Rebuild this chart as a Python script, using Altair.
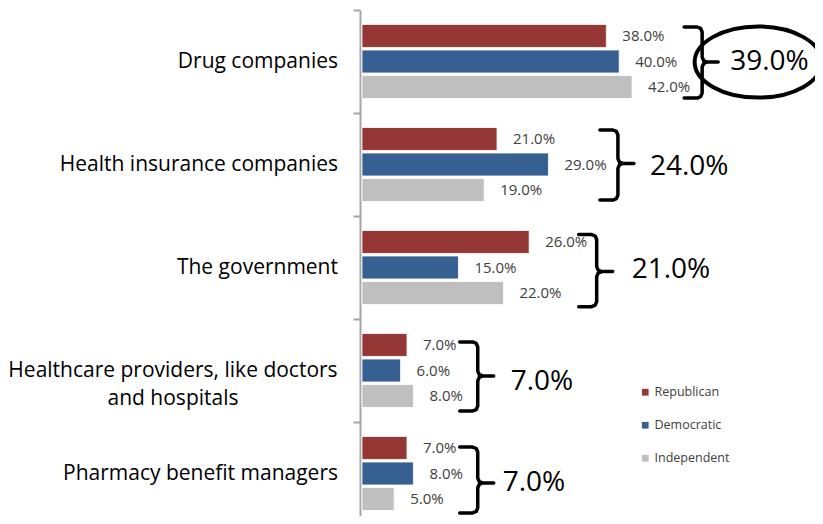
import altair as alt
import pandas as pd

# ---------------- data ----------------
categories = ["Drug companies", "Health insurance companies", "The government",
              "Healthcare providers, like doctors\nand hospitals", "Pharmacy benefit managers"]
series = ["Republican", "Democratic", "Independent"]
republican = [38.0, 21.0, 26.0, 7.0, 7.0]
democratic = [40.0, 29.0, 15.0, 6.0, 8.0]
independent = [42.0, 19.0, 22.0, 8.0, 5.0]
overall = [39.0, 24.0, 21.0, 7.0, 7.0]
colors = ["#953735", "#376092", "#bfbfbf"]

# ---------------- layout ----------------
PX = 6.43      # pixels per percentage point
BAND = 103.0   # pixels per category band
W, H = 455, 506
X0 = -0.31
xdom = [X0, W / PX + X0]
ydom = [0, H / BAND]

# annotation (brace) layout, in data units / band fractions
brace_x = [52.9, 39.8, 36.5, 18.0, 18.0]
brace_top = [0.165, 0.165, 0.18, 0.223, 0.243]
brace_bot = [0.855, 0.845, 0.88, 0.893, 0.883]
brace_tip = [0.505, 0.49, 0.54, 0.553, 0.592]
num_gap = [28, 32, 35, 33, 25]
num_y = [0.505, 0.524, 0.524, 0.61, 0.592]

FONT = "Open Sans"

# ---------------- tables ----------------
vals = [republican, democratic, independent]
rows = []
for i, cat in enumerate(categories):
    for j, s in enumerate(series):
        c = i + 0.5 + (j - 1) * 0.248
        rows.append({"cat": cat, "series": s, "value": vals[j][i],
                     "y": c - 0.1115, "y2": c + 0.1115, "yc": c,
                     "label": f"{vals[j][i]:.1f}%"})
bars = pd.DataFrame(rows)

cats = pd.DataFrame({"cat": categories, "yc": [i + 0.5 for i in range(len(categories))]})

hook, tail, r = 18.0, 16.0, 5.0
k = 0.293
brows = []
for g in range(len(categories)):
    top = g + brace_top[g]
    bot = g + brace_bot[g]
    tip = g + brace_tip[g]
    shape = [(-hook, top, 0), (-r, top, 0), (-k * r, top, k * r), (0, top, r),
             (0, tip, -r), (k * r, tip, -k * r), (r, tip, 0), (tail, tip, 0),
             (r, tip, 0), (k * r, tip, k * r), (0, tip, r),
             (0, bot, -r), (-k * r, bot, -k * r), (-r, bot, 0), (-hook, bot, 0)]
    for n, (dxp, yb, dyp) in enumerate(shape):
        brows.append({"g": g, "o": n, "x": brace_x[g] + dxp / PX, "y": yb + dyp / BAND})
braces = pd.DataFrame(brows)

nums = pd.DataFrame({
    "x": [brace_x[g] + num_gap[g] / PX for g in range(len(overall))],
    "y": [g + num_y[g] for g in range(len(overall))],
    "label": [f"{v:.1f}%" for v in overall],
})

ell = pd.DataFrame({"x": [brace_x[0] + 56 / PX], "y": [brace_tip[0]]})

# ---------------- scales / axes ----------------
xs = alt.Scale(domain=xdom, nice=False, zero=False)
ys = alt.Scale(domain=ydom, nice=False, zero=False, reverse=True)
yaxis = alt.Axis(values=[0, 1, 2, 3, 4, 5], labels=False, ticks=True, tickSize=7,
                 tickWidth=2, tickColor="#a6a6a6", domainColor="#a6a6a6",
                 domainWidth=2, grid=False, title=None)

bar_layer = alt.Chart(bars).mark_bar(stroke="white", strokeWidth=0.8).encode(
    x=alt.X("value:Q", scale=xs, axis=None),
    x2=alt.X2(datum=0),
    y=alt.Y("y:Q", scale=ys, axis=yaxis),
    y2="y2:Q",
    color=alt.Color("series:N", scale=alt.Scale(domain=series, range=colors),
                    legend=alt.Legend(orient="none", legendX=279, legendY=376,
                                      title=None, symbolType="square", symbolSize=45,
                                      labelFontSize=12.5, labelFont=FONT,
                                      labelColor="#404040", rowPadding=20,
                                      labelOffset=3, padding=0,
                                      symbolStrokeWidth=0)),
)

val_text = alt.Chart(bars).mark_text(align="left", baseline="middle", dx=16,
                                     fontSize=15, font=FONT, color="#404040").encode(
    x=alt.X("value:Q", scale=xs, axis=None),
    y=alt.Y("yc:Q", scale=ys, axis=yaxis),
    text="label:N",
)

single = cats[~cats["cat"].str.contains("\n")]
multi = cats[cats["cat"].str.contains("\n")]

cat_text = alt.Chart(single).mark_text(align="right", baseline="middle", dx=-24,
                                       fontSize=21, font=FONT, color="black").encode(
    x=alt.X(datum=0, scale=xs, axis=None),
    y=alt.Y("yc:Q", scale=ys, axis=yaxis),
    text="cat:N",
)
cat_text2 = alt.Chart(multi).mark_text(align="center", baseline="middle", dx=-189,
                                       fontSize=21, font=FONT, color="black",
                                       lineBreak="\n", lineHeight=28).encode(
    x=alt.X(datum=0, scale=xs, axis=None),
    y=alt.Y("yc:Q", scale=ys, axis=yaxis),
    text="cat:N",
)

brace_layer = alt.Chart(braces).mark_line(color="black", strokeWidth=3.5,
                                          strokeJoin="round", strokeCap="round").encode(
    x=alt.X("x:Q", scale=xs, axis=None),
    y=alt.Y("y:Q", scale=ys, axis=yaxis),
    detail="g:N",
    order="o:Q",
)

num_text = alt.Chart(nums).mark_text(align="left", baseline="middle", fontSize=28,
                                     font=FONT, color="black").encode(
    x=alt.X("x:Q", scale=xs, axis=None),
    y=alt.Y("y:Q", scale=ys, axis=yaxis),
    text="label:N",
)

ellipse = alt.Chart(ell).mark_point(
    shape="M-1,0A1,0.56,0,1,1,1,0A1,0.56,0,1,1,-1,0Z",
    filled=False, stroke="black", strokeWidth=4, size=127 * 127, opacity=1,
).encode(
    x=alt.X("x:Q", scale=xs, axis=None),
    y=alt.Y("y:Q", scale=ys, axis=yaxis),
)

chart = alt.layer(bar_layer, val_text, cat_text, cat_text2, brace_layer, num_text, ellipse).properties(
    width=W, height=H,
    autosize=alt.AutoSizeParams(type="none"),
    padding={"left": 352, "top": 2, "right": 0, "bottom": 0},
).configure_view(stroke=None)

chart.save("out.html", embed_options={"renderer": "svg", "actions": False})
